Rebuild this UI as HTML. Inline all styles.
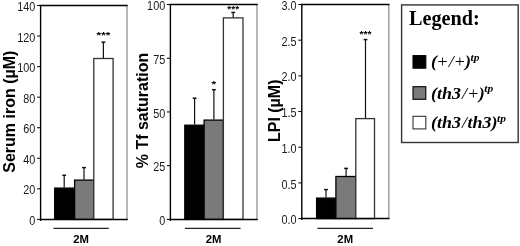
<!DOCTYPE html>
<html><head><meta charset="utf-8"><style>
html,body{margin:0;padding:0;background:#fff;}
svg{display:block;}
</style></head><body>
<svg width="520" height="246" viewBox="0 0 520 246">
<rect width="520" height="246" fill="#fff"/>
<g style="will-change:transform">
<line x1="64.20" y1="187.50" x2="64.20" y2="175.30" stroke="#111" stroke-width="1.2"/>
<line x1="62.30" y1="175.30" x2="66.10" y2="175.30" stroke="#111" stroke-width="1.5"/>
<rect x="54.70" y="188.10" width="19.90" height="31.30" fill="#000" stroke="#000" stroke-width="1.3"/>
<line x1="84.00" y1="179.50" x2="84.00" y2="167.60" stroke="#111" stroke-width="1.2"/>
<line x1="82.10" y1="167.60" x2="85.90" y2="167.60" stroke="#111" stroke-width="1.5"/>
<rect x="74.60" y="180.10" width="19.20" height="39.30" fill="#7a7a7a" stroke="#000" stroke-width="1.3"/>
<line x1="103.40" y1="58.50" x2="103.40" y2="42.20" stroke="#111" stroke-width="1.2"/>
<line x1="101.50" y1="42.20" x2="105.30" y2="42.20" stroke="#111" stroke-width="1.5"/>
<rect x="93.80" y="58.50" width="19.30" height="160.90" fill="#fff" stroke="#333" stroke-width="1.3"/>
<text x="0" y="7" text-anchor="middle" font-size="12" font-weight="bold" font-family="Liberation Sans" transform="translate(103.40 32.70) scale(0.97 0.7)">***</text>
<line x1="127.00" y1="5.50" x2="127.00" y2="219.40" stroke="#999" stroke-width="1.4"/>
<line x1="40.60" y1="5.50" x2="127.70" y2="5.50" stroke="#000" stroke-width="1.5"/>
<line x1="40.60" y1="4.80" x2="40.60" y2="220.90" stroke="#000" stroke-width="1.4"/>
<line x1="39.90" y1="219.40" x2="127.70" y2="219.40" stroke="#000" stroke-width="1.5"/>
<line x1="37.10" y1="219.40" x2="40.60" y2="219.40" stroke="#000" stroke-width="1"/>
<text x="0" y="0" text-anchor="end" font-size="12.6" font-family="Liberation Sans" fill="#1a1a1a" transform="translate(35.40 225.00) scale(0.86 1)">0</text>
<line x1="37.10" y1="188.84" x2="40.60" y2="188.84" stroke="#000" stroke-width="1"/>
<text x="0" y="0" text-anchor="end" font-size="12.6" font-family="Liberation Sans" fill="#1a1a1a" transform="translate(35.40 194.44) scale(0.86 1)">20</text>
<line x1="37.10" y1="158.29" x2="40.60" y2="158.29" stroke="#000" stroke-width="1"/>
<text x="0" y="0" text-anchor="end" font-size="12.6" font-family="Liberation Sans" fill="#1a1a1a" transform="translate(35.40 163.89) scale(0.86 1)">40</text>
<line x1="37.10" y1="127.73" x2="40.60" y2="127.73" stroke="#000" stroke-width="1"/>
<text x="0" y="0" text-anchor="end" font-size="12.6" font-family="Liberation Sans" fill="#1a1a1a" transform="translate(35.40 133.33) scale(0.86 1)">60</text>
<line x1="37.10" y1="97.17" x2="40.60" y2="97.17" stroke="#000" stroke-width="1"/>
<text x="0" y="0" text-anchor="end" font-size="12.6" font-family="Liberation Sans" fill="#1a1a1a" transform="translate(35.40 102.77) scale(0.86 1)">80</text>
<line x1="37.10" y1="66.61" x2="40.60" y2="66.61" stroke="#000" stroke-width="1"/>
<text x="0" y="0" text-anchor="end" font-size="12.6" font-family="Liberation Sans" fill="#1a1a1a" transform="translate(35.40 72.21) scale(0.86 1)">100</text>
<line x1="37.10" y1="36.06" x2="40.60" y2="36.06" stroke="#000" stroke-width="1"/>
<text x="0" y="0" text-anchor="end" font-size="12.6" font-family="Liberation Sans" fill="#1a1a1a" transform="translate(35.40 41.66) scale(0.86 1)">120</text>
<line x1="37.10" y1="5.50" x2="40.60" y2="5.50" stroke="#000" stroke-width="1"/>
<text x="0" y="0" text-anchor="end" font-size="12.6" font-family="Liberation Sans" fill="#1a1a1a" transform="translate(35.40 11.10) scale(0.86 1)">140</text>
<text transform="translate(14.70 111.70) rotate(-90)" text-anchor="middle" font-size="16" font-weight="bold" font-family="Liberation Sans">Serum iron (µM)</text>
<line x1="53.50" y1="228.30" x2="108.80" y2="228.30" stroke="#222" stroke-width="1.2"/>
<text x="81.00" y="243.1" text-anchor="middle" font-size="11.3" font-weight="bold" font-family="Liberation Sans">2M</text>
<line x1="194.60" y1="124.60" x2="194.60" y2="98.20" stroke="#111" stroke-width="1.2"/>
<line x1="192.70" y1="98.20" x2="196.50" y2="98.20" stroke="#111" stroke-width="1.5"/>
<rect x="184.80" y="125.20" width="19.30" height="94.20" fill="#000" stroke="#000" stroke-width="1.3"/>
<line x1="213.90" y1="119.50" x2="213.90" y2="89.70" stroke="#111" stroke-width="1.2"/>
<line x1="212.00" y1="89.70" x2="215.80" y2="89.70" stroke="#111" stroke-width="1.5"/>
<rect x="204.10" y="120.10" width="19.30" height="99.30" fill="#7a7a7a" stroke="#000" stroke-width="1.3"/>
<text x="0" y="7" text-anchor="middle" font-size="12" font-weight="bold" font-family="Liberation Sans" transform="translate(213.90 81.60) scale(1.0 0.7)">*</text>
<line x1="233.20" y1="17.90" x2="233.20" y2="12.40" stroke="#111" stroke-width="1.2"/>
<line x1="231.30" y1="12.40" x2="235.10" y2="12.40" stroke="#111" stroke-width="1.5"/>
<rect x="223.40" y="17.90" width="19.60" height="201.50" fill="#fff" stroke="#333" stroke-width="1.3"/>
<text x="0" y="7" text-anchor="middle" font-size="12" font-weight="bold" font-family="Liberation Sans" transform="translate(233.20 6.80) scale(0.84 0.7)">***</text>
<line x1="257.00" y1="4.50" x2="257.00" y2="219.40" stroke="#999" stroke-width="1.4"/>
<line x1="170.40" y1="4.50" x2="257.70" y2="4.50" stroke="#000" stroke-width="1.5"/>
<line x1="170.40" y1="3.80" x2="170.40" y2="220.90" stroke="#000" stroke-width="1.4"/>
<line x1="169.70" y1="219.40" x2="257.70" y2="219.40" stroke="#000" stroke-width="1.5"/>
<line x1="166.90" y1="219.40" x2="170.40" y2="219.40" stroke="#000" stroke-width="1"/>
<text x="0" y="0" text-anchor="end" font-size="12.6" font-family="Liberation Sans" fill="#1a1a1a" transform="translate(165.20 225.00) scale(0.86 1)">0</text>
<line x1="166.90" y1="165.68" x2="170.40" y2="165.68" stroke="#000" stroke-width="1"/>
<text x="0" y="0" text-anchor="end" font-size="12.6" font-family="Liberation Sans" fill="#1a1a1a" transform="translate(165.20 171.28) scale(0.86 1)">25</text>
<line x1="166.90" y1="111.95" x2="170.40" y2="111.95" stroke="#000" stroke-width="1"/>
<text x="0" y="0" text-anchor="end" font-size="12.6" font-family="Liberation Sans" fill="#1a1a1a" transform="translate(165.20 117.55) scale(0.86 1)">50</text>
<line x1="166.90" y1="58.22" x2="170.40" y2="58.22" stroke="#000" stroke-width="1"/>
<text x="0" y="0" text-anchor="end" font-size="12.6" font-family="Liberation Sans" fill="#1a1a1a" transform="translate(165.20 63.82) scale(0.86 1)">75</text>
<line x1="166.90" y1="4.50" x2="170.40" y2="4.50" stroke="#000" stroke-width="1"/>
<text x="0" y="0" text-anchor="end" font-size="12.6" font-family="Liberation Sans" fill="#1a1a1a" transform="translate(165.20 10.10) scale(0.86 1)">100</text>
<text transform="translate(147.80 110.50) rotate(-90)" text-anchor="middle" font-size="16" font-weight="bold" font-family="Liberation Sans">% Tf saturation</text>
<line x1="185.00" y1="228.30" x2="240.60" y2="228.30" stroke="#222" stroke-width="1.2"/>
<text x="213.60" y="243.1" text-anchor="middle" font-size="11.3" font-weight="bold" font-family="Liberation Sans">2M</text>
<line x1="326.00" y1="197.50" x2="326.00" y2="189.60" stroke="#111" stroke-width="1.2"/>
<line x1="324.10" y1="189.60" x2="327.90" y2="189.60" stroke="#111" stroke-width="1.5"/>
<rect x="316.60" y="198.10" width="19.30" height="20.50" fill="#000" stroke="#000" stroke-width="1.3"/>
<line x1="346.10" y1="175.90" x2="346.10" y2="168.40" stroke="#111" stroke-width="1.2"/>
<line x1="344.20" y1="168.40" x2="348.00" y2="168.40" stroke="#111" stroke-width="1.5"/>
<rect x="335.90" y="176.50" width="19.90" height="42.10" fill="#7a7a7a" stroke="#000" stroke-width="1.3"/>
<line x1="365.50" y1="118.60" x2="365.50" y2="39.60" stroke="#111" stroke-width="1.2"/>
<line x1="363.60" y1="39.60" x2="367.40" y2="39.60" stroke="#111" stroke-width="1.5"/>
<rect x="355.80" y="118.60" width="18.70" height="100.00" fill="#fff" stroke="#333" stroke-width="1.3"/>
<text x="0" y="7" text-anchor="middle" font-size="12" font-weight="bold" font-family="Liberation Sans" transform="translate(365.50 32.00) scale(0.86 0.7)">***</text>
<line x1="388.80" y1="4.50" x2="388.80" y2="218.60" stroke="#999" stroke-width="1.4"/>
<line x1="301.80" y1="4.50" x2="389.50" y2="4.50" stroke="#000" stroke-width="1.5"/>
<line x1="301.80" y1="3.80" x2="301.80" y2="220.10" stroke="#000" stroke-width="1.4"/>
<line x1="301.10" y1="218.60" x2="389.50" y2="218.60" stroke="#000" stroke-width="1.5"/>
<line x1="298.30" y1="218.60" x2="301.80" y2="218.60" stroke="#000" stroke-width="1"/>
<text x="0" y="0" text-anchor="end" font-size="12.6" font-family="Liberation Sans" fill="#1a1a1a" transform="translate(296.60 224.20) scale(0.86 1)">0.0</text>
<line x1="298.30" y1="182.92" x2="301.80" y2="182.92" stroke="#000" stroke-width="1"/>
<text x="0" y="0" text-anchor="end" font-size="12.6" font-family="Liberation Sans" fill="#1a1a1a" transform="translate(296.60 188.52) scale(0.86 1)">0.5</text>
<line x1="298.30" y1="147.23" x2="301.80" y2="147.23" stroke="#000" stroke-width="1"/>
<text x="0" y="0" text-anchor="end" font-size="12.6" font-family="Liberation Sans" fill="#1a1a1a" transform="translate(296.60 152.83) scale(0.86 1)">1.0</text>
<line x1="298.30" y1="111.55" x2="301.80" y2="111.55" stroke="#000" stroke-width="1"/>
<text x="0" y="0" text-anchor="end" font-size="12.6" font-family="Liberation Sans" fill="#1a1a1a" transform="translate(296.60 117.15) scale(0.86 1)">1.5</text>
<line x1="298.30" y1="75.87" x2="301.80" y2="75.87" stroke="#000" stroke-width="1"/>
<text x="0" y="0" text-anchor="end" font-size="12.6" font-family="Liberation Sans" fill="#1a1a1a" transform="translate(296.60 81.47) scale(0.86 1)">2.0</text>
<line x1="298.30" y1="40.18" x2="301.80" y2="40.18" stroke="#000" stroke-width="1"/>
<text x="0" y="0" text-anchor="end" font-size="12.6" font-family="Liberation Sans" fill="#1a1a1a" transform="translate(296.60 45.78) scale(0.86 1)">2.5</text>
<line x1="298.30" y1="4.50" x2="301.80" y2="4.50" stroke="#000" stroke-width="1"/>
<text x="0" y="0" text-anchor="end" font-size="12.6" font-family="Liberation Sans" fill="#1a1a1a" transform="translate(296.60 10.10) scale(0.86 1)">3.0</text>
<text transform="translate(280.20 110.80) rotate(-90)" text-anchor="middle" font-size="16" font-weight="bold" font-family="Liberation Sans">LPI (µM)</text>
<line x1="317.40" y1="228.30" x2="373.00" y2="228.30" stroke="#222" stroke-width="1.2"/>
<text x="345.20" y="243.1" text-anchor="middle" font-size="11.3" font-weight="bold" font-family="Liberation Sans">2M</text>
<rect x="401.6" y="4.9" width="116.6" height="137.6" fill="#fff" stroke="#333" stroke-width="1.4"/>
<text x="409" y="25.4" font-size="20.2" font-weight="bold" font-family="Liberation Serif">Legend:</text>
<rect x="413" y="55.60" width="12.8" height="12.6" fill="#000" stroke="#000" stroke-width="1.1"/>
<text x="0" y="0" transform="translate(431 67.40) scale(1 0.95)" font-size="18" font-weight="bold" font-style="italic" font-family="Liberation Serif">(<tspan font-weight="normal" font-style="normal" dx="0.5">+</tspan><tspan font-weight="normal" dx="1">/</tspan><tspan font-weight="normal" font-style="normal" dx="1">+</tspan><tspan dx="0.3">)</tspan><tspan font-size="11.5" dx="-0.5" dy="-6.7">tp</tspan></text>
<rect x="413" y="86.70" width="12.8" height="12.6" fill="#7a7a7a" stroke="#000" stroke-width="1.1"/>
<text x="0" y="0" transform="translate(431 98.50) scale(1 0.95)" font-size="18" font-weight="bold" font-style="italic" font-family="Liberation Serif">(th3<tspan font-weight="normal" dx="1">/</tspan><tspan font-weight="normal" font-style="normal" dx="1.3">+</tspan><tspan dx="0.3">)</tspan><tspan font-size="11.5" dx="-0.5" dy="-6.7">tp</tspan></text>
<rect x="413" y="116.30" width="12.8" height="12.6" fill="#fff" stroke="#333" stroke-width="1.1"/>
<text x="0" y="0" transform="translate(431 128.10) scale(1 0.95)" font-size="18" font-weight="bold" font-style="italic" font-family="Liberation Serif">(th3<tspan font-weight="normal" dx="1">/</tspan><tspan dx="0.6">th3</tspan>)<tspan font-size="11.5" dx="-0.5" dy="-6.7">tp</tspan></text>
</g>
</svg>
</body></html>
